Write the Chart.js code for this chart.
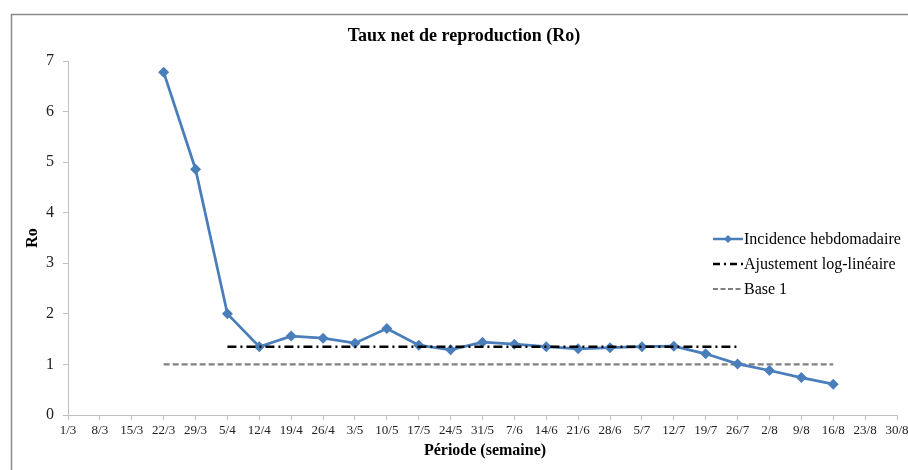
<!DOCTYPE html>
<html>
<head>
<meta charset="utf-8">
<script src="https://cdn.jsdelivr.net/npm/chart.js@4"></script>
<style>
  body { margin: 0; background: #fff; }
  #wrap { width: 908px; height: 470px; position: relative; }
</style>
</head>
<body>
<div id="wrap"><canvas id="roChart"></canvas></div>
<script>
const weeks = ['1/3', '8/3', '15/3', '22/3', '29/3', '5/4', '12/4', '19/4', '26/4', '3/5', '10/5', '17/5', '24/5',
  '31/5', '7/6', '14/6', '21/6', '28/6', '5/7', '12/7', '19/7', '26/7', '2/8', '9/8', '16/8', '23/8', '30/8'];
const incidence = [null, null, null, 6.78, 4.86, 2.0, 1.35, 1.56, 1.52, 1.42, 1.71, 1.38, 1.29,
  1.44, 1.40, 1.35, 1.31, 1.33, 1.35, 1.36, 1.21, 1.01, 0.88, 0.74, 0.61, null, null];
const ajustement = [null, null, null, null, null, 1.35, 1.35, 1.35, 1.35, 1.35, 1.35, 1.35, 1.35,
  1.35, 1.35, 1.35, 1.35, 1.35, 1.35, 1.35, 1.35, 1.35, null, null, null, null, null];
const base = [null, null, null, 1, 1, 1, 1, 1, 1, 1, 1, 1, 1,
  1, 1, 1, 1, 1, 1, 1, 1, 1, 1, 1, 1, null, null];
const yTicks = [0, 1, 2, 3, 4, 5, 6, 7];

const blue = '#4a7ebb';
const serif = '"Liberation Serif", "Times New Roman", serif';

// title, axis titles, legend and outer frame
const decor = {
  id: 'decor',
  afterDraw(chart) {
    const ctx = chart.ctx;
    ctx.save();
    ctx.strokeStyle = '#8a8a8a';
    ctx.lineWidth = 1.5;
    ctx.strokeRect(11.5, 14.5, 1000, 600);

    ctx.fillStyle = '#000';
    ctx.textAlign = 'center';
    ctx.textBaseline = 'middle';
    ctx.font = 'bold 18px ' + serif;
    ctx.fillText('Taux net de reproduction (Ro)', 464, 36);
    ctx.font = 'bold 16px ' + serif;
    ctx.fillText('Période (semaine)', 485, 451);
    ctx.save();
    ctx.translate(33, 238);
    ctx.rotate(-Math.PI / 2);
    ctx.fillText('Ro', 0, 0);
    ctx.restore();

    const items = [
      { text: 'Incidence hebdomadaire', color: blue, dash: [], width: 2.5, marker: true, y: 239 },
      { text: 'Ajustement log-linéaire', color: '#000', dash: [7, 4, 2, 4], width: 2.5, y: 264 },
      { text: 'Base 1', color: '#808080', dash: [5, 2.5], width: 2, y: 289 }
    ];
    ctx.textAlign = 'left';
    ctx.font = '16px ' + serif;
    items.forEach((it) => {
      ctx.beginPath();
      ctx.setLineDash(it.dash);
      ctx.strokeStyle = it.color;
      ctx.lineWidth = it.width;
      ctx.moveTo(713, it.y);
      ctx.lineTo(743, it.y);
      ctx.stroke();
      ctx.setLineDash([]);
      if (it.marker) {
        ctx.fillStyle = it.color;
        ctx.beginPath();
        ctx.moveTo(728, it.y - 4);
        ctx.lineTo(732, it.y);
        ctx.lineTo(728, it.y + 4);
        ctx.lineTo(724, it.y);
        ctx.closePath();
        ctx.fill();
      }
      ctx.fillStyle = '#000';
      ctx.fillText(it.text, 744, it.y + 1);
    });
    ctx.restore();
  }
};

new Chart(document.getElementById('roChart'), {
  type: 'line',
  data: {
    labels: weeks,
    datasets: [
      {
        label: 'Incidence hebdomadaire',
        data: incidence,
        borderColor: blue,
        backgroundColor: blue,
        borderWidth: 2.75,
        pointStyle: 'rectRot',
        pointRadius: 5.5,
        pointBorderWidth: 0,
        tension: 0,
        order: 2
      },
      {
        label: 'Ajustement log-linéaire',
        data: ajustement,
        borderColor: '#000',
        borderWidth: 2.5,
        borderDash: [9, 4, 2, 4],
        pointRadius: 0,
        order: 1
      },
      {
        label: 'Base 1',
        data: base,
        borderColor: '#808080',
        borderWidth: 2.25,
        borderDash: [6, 3],
        pointRadius: 0,
        order: 3
      }
    ]
  },
  options: {
    responsive: true,
    maintainAspectRatio: false,
    animation: false,
    layout: { padding: { top: 61, right: 11, left: 0, bottom: 0 } },
    plugins: { legend: { display: false }, tooltip: { enabled: false } },
    scales: {
      x: {
        offset: false,
        afterFit(scale) { scale.height = 55; scale.paddingRight = 0; scale.paddingLeft = 0; },
        grid: { drawOnChartArea: false, drawTicks: true, tickLength: 5, color: '#c0c0c0', offset: false },
        border: { color: '#c0c0c0' },
        ticks: { autoSkip: false, maxRotation: 0, color: '#222', font: { family: serif, size: 13 }, padding: 3 }
      },
      y: {
        min: 0,
        max: 7,
        afterFit(scale) { scale.width = 68; },
        afterBuildTicks(scale) { scale.ticks = yTicks.map((v) => ({ value: v })); },
        grid: { drawOnChartArea: false, drawTicks: true, tickLength: 5, color: '#c0c0c0' },
        border: { color: '#c0c0c0' },
        ticks: { color: '#222', font: { family: serif, size: 16 }, padding: 9 }
      }
    }
  },
  plugins: [decor]
});
</script>
</body>
</html>
